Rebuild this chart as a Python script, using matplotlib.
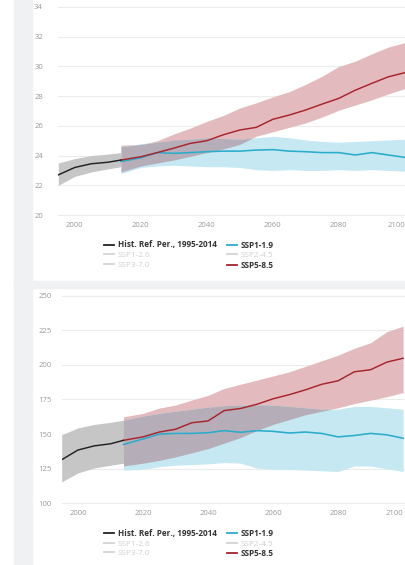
import numpy as np
import matplotlib.pyplot as plt
from matplotlib.patches import Rectangle

plt.rcParams['font.family'] = ['Open Sans', 'DejaVu Sans']

# ---- data ----
hist_years = [1995, 2000, 2005, 2010, 2014]
fut_years = [2014, 2020, 2025, 2030, 2035, 2040, 2045, 2050, 2055, 2060,
             2065, 2070, 2075, 2080, 2085, 2090, 2095, 2100]

# top panel
top_hist = [22.7, 23.2, 23.45, 23.55, 23.7]
top_hist_lo = [22.0, 22.6, 22.9, 23.1, 23.25]
top_hist_hi = [23.5, 23.8, 24.0, 24.1, 24.2]
top_ssp585 = [23.7, 23.92, 24.2, 24.5, 24.82, 25.0, 25.4, 25.72, 25.9, 26.44,
              26.73, 27.07, 27.47, 27.85, 28.4, 28.86, 29.3, 29.58]
top_ssp585_lo = [22.9, 23.3, 23.5, 23.7, 23.95, 24.2, 24.45, 24.75, 25.3, 25.6,
                 25.9, 26.2, 26.6, 27.05, 27.4, 27.75, 28.15, 28.5]
top_ssp585_hi = [24.7, 24.75, 25.0, 25.45, 25.85, 26.3, 26.7, 27.2, 27.55, 27.95,
                 28.3, 28.8, 29.35, 30.0, 30.35, 30.85, 31.3, 31.6]
top_ssp119 = [23.6, 23.85, 24.2, 24.15, 24.2, 24.26, 24.3, 24.3, 24.37, 24.4,
              24.3, 24.26, 24.2, 24.2, 24.04, 24.2, 24.04, 23.88]
top_ssp119_lo = [22.8, 23.2, 23.3, 23.35, 23.3, 23.25, 23.25, 23.2, 23.05, 23.0,
                 23.05, 23.0, 23.0, 23.05, 23.0, 23.05, 23.0, 22.95]
top_ssp119_hi = [24.6, 24.8, 24.9, 25.05, 25.1, 25.2, 25.15, 25.1, 25.2, 25.3,
                 25.2, 25.05, 24.95, 24.9, 24.95, 25.0, 25.05, 25.1]

# bottom panel
bot_hist = [131.5, 138.5, 141.5, 143.0, 145.5]
bot_hist_lo = [115.5, 122.0, 125.5, 127.5, 129.0]
bot_hist_hi = [149.5, 154.5, 157.0, 158.5, 160.0]
bot_ssp585 = [145.5, 148.0, 151.5, 153.5, 158.2, 159.5, 167.0, 168.5, 171.5, 175.5,
              178.5, 182.0, 186.0, 188.5, 195.0, 196.5, 202.0, 204.8]
bot_ssp585_lo = [127.0, 129.0, 131.0, 133.5, 136.5, 139.5, 143.5, 147.5, 152.5, 157.0,
                 160.5, 164.0, 166.5, 169.0, 172.0, 174.5, 177.0, 180.0]
bot_ssp585_hi = [162.5, 165.0, 168.8, 171.0, 174.6, 178.0, 183.0, 186.0, 189.0, 192.0,
                 195.0, 199.0, 203.0, 207.0, 212.0, 216.0, 224.0, 228.0]
bot_ssp119 = [142.5, 146.5, 150.0, 150.5, 150.5, 151.0, 152.5, 151.3, 152.5, 152.0,
              150.8, 151.5, 150.5, 148.0, 149.0, 150.5, 149.5, 147.0]
bot_ssp119_lo = [124.0, 124.5, 126.5, 127.5, 128.0, 128.5, 129.5, 129.0, 125.5, 124.5,
                 124.5, 124.0, 123.5, 123.0, 127.0, 127.0, 125.0, 123.0]
bot_ssp119_hi = [160.0, 163.0, 165.0, 166.5, 168.0, 169.5, 170.5, 171.0, 171.0, 171.0,
                 170.0, 169.0, 168.0, 168.0, 170.0, 170.0, 169.0, 168.0]

legend_labels = ['Hist. Ref. Per., 1995-2014', 'SSP1-2.6', 'SSP3-7.0',
                 'SSP1-1.9', 'SSP2-4.5', 'SSP5-8.5']

# ---- style ----
c_hist = '#222222'
c_hist_band = '#c6c6c6'
c_red = '#a8232a'
c_red_band = '#e3bbbe'
c_cyan = '#2aaccb'
c_cyan_band = '#c6e8f3'
c_overlap = '#b5aeb8'
c_faded = '#d3d3d3'
c_tick = '#9a9a9a'

W, H = 406, 565
fig = plt.figure(figsize=(W / 100, H / 100), dpi=100)
fig.patch.set_facecolor('white')

# page background pieces
fig.patches.append(Rectangle((14 / W, 0), 18 / W, 1, transform=fig.transFigure,
                             color='#f0f1f3', zorder=0))
fig.patches.append(Rectangle((14 / W, (H - 288) / H), 1, 7 / H, transform=fig.transFigure,
                             color='#f0f1f3', zorder=0))


def draw_panel(rect, xlim, ylim, yticks, ypad, xpad,
               hist, hlo, hhi, r, rlo, rhi, c, clo, chi):
    ax = fig.add_axes(rect)
    ax.set_xlim(*xlim)
    ax.set_ylim(*ylim)
    fy = np.array(fut_years, dtype=float)

    ax.fill_between(hist_years, hlo, hhi, color=c_hist_band, lw=0, zorder=1)
    ax.fill_between(fy, rlo, rhi, color=c_red_band, lw=0, zorder=2)
    ax.fill_between(fy, clo, chi, color=c_cyan_band, lw=0, zorder=3)
    # where the two ranges overlap
    ov_lo = np.maximum(rlo, clo)
    ov_hi = np.minimum(rhi, chi)
    ax.fill_between(fy, ov_lo, ov_hi, where=ov_hi > ov_lo, interpolate=True,
                    color=c_overlap, lw=0, zorder=4)

    ax.plot(fy, c, color=c_cyan, lw=1.15, zorder=6)
    ax.plot(fy, r, color=c_red, lw=1.05, zorder=7)
    ax.plot(hist_years, hist, color=c_hist, lw=1.05, zorder=8)

    ax.set_yticks(yticks)
    ax.set_xticks([2000, 2020, 2040, 2060, 2080, 2100])
    ax.grid(axis='y', color='#ececec', lw=0.8, zorder=0)
    ax.set_axisbelow(True)
    for s in ax.spines.values():
        s.set_visible(False)
    ax.tick_params(axis='y', length=0, pad=ypad, labelsize=5.6, labelcolor=c_tick)
    ax.tick_params(axis='x', length=0, pad=xpad, labelsize=5.6, labelcolor=c_tick)
    # last year label is pushed inside the plot edge
    ax.get_xticklabels()[-1].set_horizontalalignment('right')
    ax.set_facecolor('white')
    return ax


def add_legend(ax, anchor_y):
    handles = []
    cols = [c_hist, c_faded, c_faded, c_cyan, c_faded, c_red]
    for col in cols:
        h, = ax.plot([], [], color=col, lw=1.3)
        handles.append(h)
    leg = ax.legend(handles, legend_labels, ncol=2, loc='upper left',
                    bbox_to_anchor=(104 / W, anchor_y / H), bbox_transform=fig.transFigure,
                    frameon=False, fontsize=5.9, handlelength=1.25, handletextpad=0.4,
                    columnspacing=1.3, labelspacing=0.22, borderpad=0, borderaxespad=0)
    for i, t in enumerate(leg.get_texts()):
        if cols[i] == c_faded:
            t.set_color('#cfcfcf')
        else:
            t.set_color('#333333')
            t.set_fontweight('bold')


ax1 = draw_panel([58.3 / W, (H - 216.5) / H, (W - 58.3) / W, 211 / H],
                 (1995, 2100.36), (19.9, 34.1), [20, 22, 24, 26, 28, 30, 32, 34], 11, 4,
                 top_hist, top_hist_lo, top_hist_hi,
                 top_ssp585, top_ssp585_lo, top_ssp585_hi,
                 top_ssp119, top_ssp119_lo, top_ssp119_hi)
add_legend(ax1, H - 240.5)

ax2 = draw_panel([61.7 / W, (H - 506.1) / H, (W - 61.7) / W, 213.2 / H],
                 (1995, 2100.9), (98, 252), [100, 125, 150, 175, 200, 225, 250], 7, 2.6,
                 bot_hist, bot_hist_lo, bot_hist_hi,
                 bot_ssp585, bot_ssp585_lo, bot_ssp585_hi,
                 bot_ssp119, bot_ssp119_lo, bot_ssp119_hi)
add_legend(ax2, H - 529)

fig.savefig('out.png', dpi=100)
